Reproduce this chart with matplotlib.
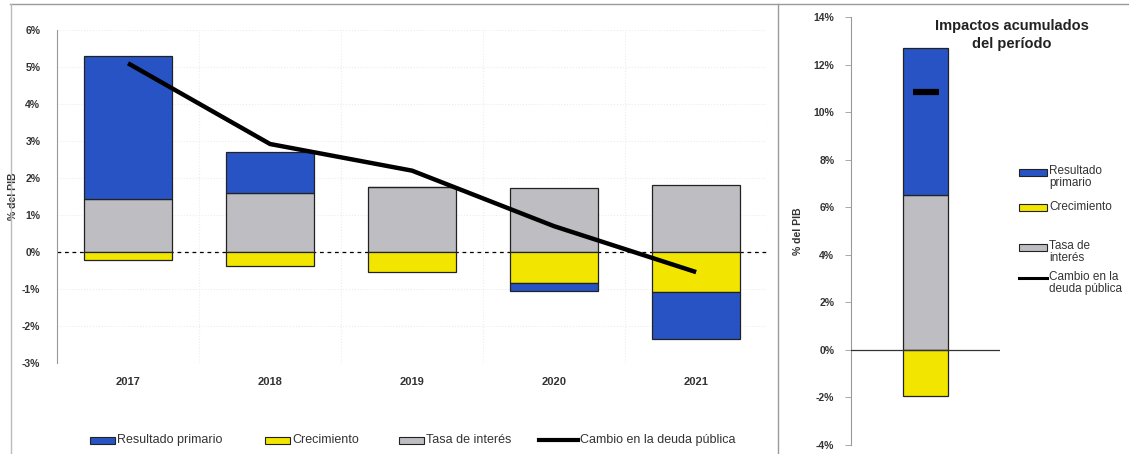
import matplotlib
matplotlib.use("Agg")
import matplotlib.pyplot as plt
import numpy as np
from matplotlib.lines import Line2D
from matplotlib.patches import Rectangle
from matplotlib.ticker import FuncFormatter, MultipleLocator

plt.rcParams['font.family'] = ['Liberation Sans', 'DejaVu Sans']

# ---- data ----
years = ["2017", "2018", "2019", "2020", "2021"]
tasa_interes = [1.43, 1.60, 1.76, 1.72, 1.80]
resultado_primario = [3.87, 1.10, 0.0, -0.21, -1.27]
crecimiento = [-0.22, -0.38, -0.54, -0.84, -1.08]
cambio_deuda = [5.10, 2.92, 2.20, 0.70, -0.54]

acum_interes = 6.50
acum_primario = 6.20
acum_crecimiento = -1.95
acum_cambio = 10.85

labels = ["Resultado primario", "Crecimiento", "Tasa de interés", "Cambio en la deuda pública"]
labels_right = ["Resultado\nprimario", "Crecimiento", "Tasa de\ninterés", "Cambio en la\ndeuda pública"]

c_blue = "#2753C4"
c_yellow = "#F2E600"
c_gray = "#BDBDC2"
c_edge = "#222222"
c_text = "#333333"
colors = [c_blue, c_yellow, c_gray, "black"]

W, H = 1129, 454
fig = plt.figure(figsize=(W / 100, H / 100), dpi=100)

pct = FuncFormatter(lambda v, p: f"{v:.0f}%")

# ---- left panel ----
ax = fig.add_axes([0.0505, 0.2, 0.629, 0.734])
x = np.arange(len(years))
w = 0.62
pos_base = np.zeros(len(years))
neg_base = np.zeros(len(years))
def stack(vals, color):
    global pos_base, neg_base
    vals = np.array(vals, dtype=float)
    bottoms = np.where(vals >= 0, pos_base, neg_base)
    ax.bar(x, vals, w, bottom=bottoms, color=color, edgecolor=c_edge, linewidth=0.9, zorder=3)
    pos_base = pos_base + np.where(vals >= 0, vals, 0)
    neg_base = neg_base + np.where(vals < 0, vals, 0)

stack(tasa_interes, c_gray)
stack(crecimiento, c_yellow)
stack(resultado_primario, c_blue)
ax.plot(x, cambio_deuda, color="black", linewidth=3.2, zorder=5, solid_capstyle='butt')
ax.axhline(0, color="black", linestyle=(0, (3, 3)), linewidth=0.9, zorder=2)

ax.set_xlim(-0.5, 4.5)
ax.set_ylim(-3, 6)
ax.yaxis.set_major_locator(MultipleLocator(1))
ax.yaxis.set_major_formatter(pct)
ax.set_xticks(x)
ax.set_xticklabels(years, fontsize=8, color=c_text, fontweight='bold')
ax.tick_params(axis='x', length=0, pad=10)
ax.tick_params(axis='y', length=0, pad=12, labelsize=7.5, labelcolor=c_text)
for t in ax.get_yticklabels():
    t.set_fontweight('bold')
for s in ["top", "right", "bottom"]:
    ax.spines[s].set_visible(False)
ax.spines["left"].set_color("#999999")
ax.spines["left"].set_linewidth(0.8)
ax.set_xticks(np.arange(-0.5, 4.6, 0.5), minor=True)
ax.grid(True, which='minor', axis='x', color="#ececec", linestyle=":", linewidth=0.8, zorder=0)
ax.grid(True, which='major', axis='y', color="#ececec", linestyle=":", linewidth=0.8, zorder=0)
ax.tick_params(axis='x', which='minor', length=0)
ax.set_ylabel("% del PIB", fontsize=7.5, fontweight='bold', color=c_text)
ax.yaxis.set_label_coords(-0.055, 0.5)

# ---- right panel ----
ax2 = fig.add_axes([0.7538, 0.0198, 0.132, 0.9428])
xr = [0.5]
wr = 0.3
ax2.bar(xr, [acum_interes], wr, color=c_gray, edgecolor=c_edge, linewidth=0.9, zorder=3)
ax2.bar(xr, [acum_primario], wr, bottom=[acum_interes], color=c_blue, edgecolor=c_edge, linewidth=0.9, zorder=3)
ax2.bar(xr, [acum_crecimiento], wr, color=c_yellow, edgecolor=c_edge, linewidth=0.9, zorder=3)
ax2.plot(xr, [acum_cambio], marker="_", markersize=19, markeredgewidth=4.5, color="black", linestyle="none", zorder=5)
ax2.axhline(0, color="#333333", linewidth=0.9, zorder=4)
ax2.set_xlim(0, 1)
ax2.set_ylim(-4, 14)
ax2.yaxis.set_major_locator(MultipleLocator(2))
ax2.yaxis.set_major_formatter(pct)
ax2.set_xticks([])
ax2.tick_params(axis='y', length=4, width=0.6, color="#999999", pad=8, labelsize=7.5, labelcolor=c_text)
for t in ax2.get_yticklabels():
    t.set_fontweight('bold')
for s in ["top", "right", "bottom"]:
    ax2.spines[s].set_visible(False)
ax2.spines["left"].set_color("#999999")
ax2.spines["left"].set_linewidth(0.8)
ax2.set_ylabel("% del PIB", fontsize=7.5, fontweight='bold', color=c_text)
ax2.yaxis.set_label_coords(-0.322, 0.5)

fig.text(1012 / W, 1 - 35 / H, "Impactos acumulados\ndel período", ha="center", va="center",
         fontsize=10.5, fontweight="bold", color="#222222", linespacing=1.3)

# ---- legends (drawn in figure pixel coordinates) ----
def legend_entry(kind, color, x0, x1, yc, label, fs, tx):
    if kind == "line":
        fig.add_artist(Line2D([x0 / W, x1 / W], [1 - yc / H, 1 - yc / H],
                              color=color, linewidth=3 if fs > 8.5 else 2.2,
                              transform=fig.transFigure))
    else:
        hh = 7
        fig.add_artist(Rectangle((x0 / W, 1 - (yc + hh / 2) / H), (x1 - x0) / W, hh / H,
                                 facecolor=color, edgecolor=c_edge, linewidth=0.8,
                                 transform=fig.transFigure))
    fig.text(tx / W, 1 - yc / H, label, ha="left", va="center",
             fontsize=fs, color=c_text, linespacing=1.1)

# bottom legend
left_pos = [(90, 115, 117), (265, 290, 292), (399, 424, 426), (539, 578, 580)]
for i, (lab, col, (a, b, t)) in enumerate(zip(labels, colors, left_pos)):
    legend_entry("line" if i == 3 else "patch", col, a, b, 440, lab, 9, t)

# right legend
right_y = [172, 207, 247, 278]
for i, (lab, col, yc) in enumerate(zip(labels_right, colors, right_y)):
    kind = "line" if i == 3 else "patch"
    if "\n" in lab:
        if kind == "line":
            fig.add_artist(Line2D([1019 / W, 1047 / W], [1 - yc / H, 1 - yc / H],
                                  color=col, linewidth=2.2, transform=fig.transFigure))
        else:
            fig.add_artist(Rectangle((1019 / W, 1 - (yc + 3.5) / H), 28 / W, 7 / H,
                                     facecolor=col, edgecolor=c_edge, linewidth=0.8,
                                     transform=fig.transFigure))
        fig.text(1049 / W, 1 - (yc - 7) / H, lab, ha="left", va="top",
                 fontsize=8.5, color=c_text, linespacing=1.05)
    else:
        legend_entry(kind, col, 1019, 1047, yc, lab, 8.5, 1049)

# frame lines
fig.add_artist(Line2D([0.009, 1.0], [0.992, 0.992], color="#9a9a9a", linewidth=1.0))
fig.add_artist(Line2D([0.010, 0.010], [0.0, 0.992], color="#bbbbbb", linewidth=1.0))
fig.add_artist(Line2D([0.689, 0.689], [0.0, 0.992], color="#9a9a9a", linewidth=1.0))

fig.savefig("out.png", dpi=100)
